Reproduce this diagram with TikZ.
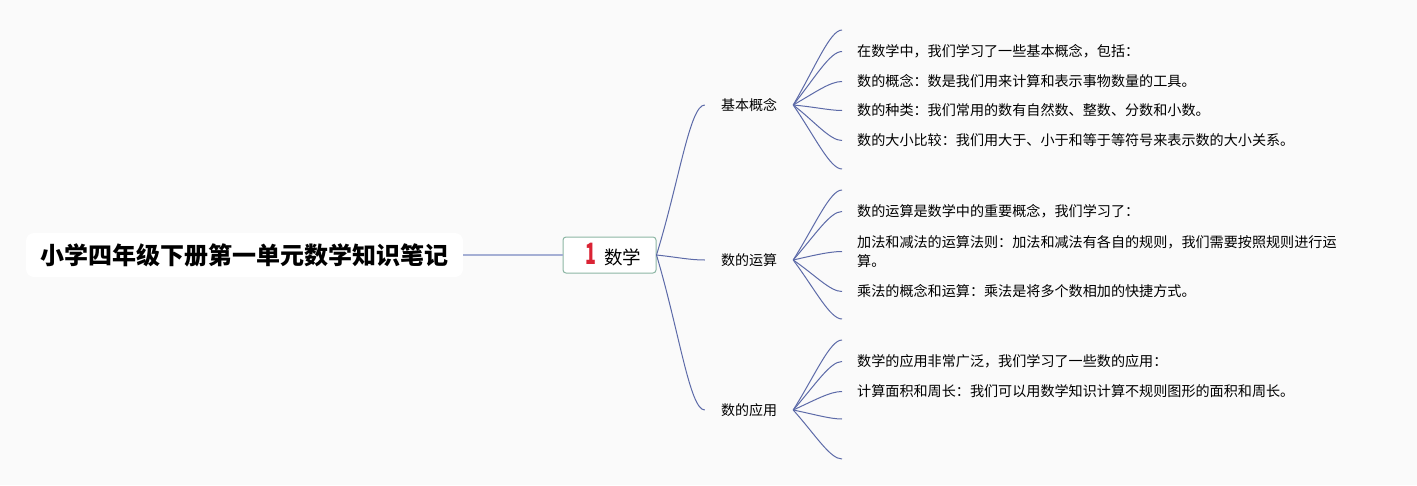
\documentclass[tikz,border=0pt]{standalone}
\usepackage{fontspec}
\setmainfont{Noto Sans CJK SC}
\definecolor{bgcol}{RGB}{250,250,250}
\definecolor{linkcol}{RGB}{92,106,168}
\definecolor{rootlink}{RGB}{165,175,212}
\definecolor{boxedge}{RGB}{140,182,164}
\definecolor{numred}{RGB}{218,35,52}
\tikzset{
  rootbox/.style={fill=white, rounded corners=8pt, minimum width=437pt, minimum height=44pt, font=\fontsize{24}{28}\selectfont\bfseries},
  mainbox/.style={draw=boxedge, line width=1pt, fill=white, rounded corners=3pt, minimum width=93pt, minimum height=36pt, inner sep=0pt, font=\fontsize{18.5}{20}\selectfont},
  topic/.style={minimum width=88pt, inner sep=0pt, font=\fontsize{14}{17}\selectfont},
  leaf/.style={anchor=west, inner xsep=15pt, inner ysep=0pt, align=left, font=\fontsize{14.1}{19.5}\selectfont},
  link/.style={draw=linkcol, line width=1pt},
}
\begin{document}
\begin{tikzpicture}[x=1pt,y=-1pt]
\fill[bgcol] (0,0) rectangle (1417,485);
\useasboundingbox (0,0) rectangle (1417,485);
\node[rootbox] (root) at (244.5,255) {小学四年级下册第一单元数学知识笔记};
\node[mainbox] (math) at (609.5,255) {\hspace{8pt}\textcolor{numred}{\fontsize{21}{21}\selectfont\bfseries\scalebox{0.85}[1.4]{1}}\hspace{8pt}数学};
\draw[rootlink, line width=1.2pt] (root.east) -- (math.west);
\node[topic] (basic) at (749,105) {基本概念};
\node[topic] (calc) at (749,260) {数的运算};
\node[topic] (apply) at (749,410) {数的应用};
\draw[link] (math.east) .. controls +(23,-75) and +(-15,0) .. (basic.west);
\draw[link] (math.east) .. controls +(23,2.5) and +(-15,0) .. (calc.west);
\draw[link] (math.east) .. controls +(23,77.5) and +(-15,0) .. (apply.west);
\coordinate (b0) at (842,30);
\node[leaf] (b1) at (842,51.5) {在数学中，我们学习了一些基本概念，包括：};
\node[leaf] (b2) at (842,81.5) {数的概念：数是我们用来计算和表示事物数量的工具。};
\node[leaf] (b3) at (842,110.5) {数的种类：我们常用的数有自然数、整数、分数和小数。};
\node[leaf] (b4) at (842,140.5) {数的大小比较：我们用大于、小于和等于等符号来表示数的大小关系。};
\coordinate (b5) at (842,169);
\draw[link] (basic.east) .. controls +(22,-37.5) and +(-12,0) .. (b0);
\draw[link] (basic.east) .. controls +(22,-27.5) and +(-12,0) .. (b1.west);
\draw[link] (basic.east) .. controls +(22,-12.5) and +(-12,0) .. (b2.west);
\draw[link] (basic.east) .. controls +(22,2) and +(-12,0) .. (b3.west);
\draw[link] (basic.east) .. controls +(22,17) and +(-12,0) .. (b4.west);
\draw[link] (basic.east) .. controls +(22,32) and +(-12,0) .. (b5);
\coordinate (c0) at (842,190);
\node[leaf] (c1) at (842,211.5) {数的运算是数学中的重要概念，我们学习了：};
\node[leaf] (c2) at (842,251.5) {加法和减法的运算法则：加法和减法有各自的规则，我们需要按照规则进行运\\算。};
\node[leaf] (c3) at (842,291.5) {乘法的概念和运算：乘法是将多个数相加的快捷方式。};
\coordinate (c4) at (842,319);
\draw[link] (calc.east) .. controls +(22,-35) and +(-12,0) .. (c0);
\draw[link] (calc.east) .. controls +(22,-25) and +(-12,0) .. (c1.west);
\draw[link] (calc.east) .. controls +(22,-5) and +(-12,0) .. (c2.west);
\draw[link] (calc.east) .. controls +(22,15) and +(-12,0) .. (c3.west);
\draw[link] (calc.east) .. controls +(22,29.5) and +(-12,0) .. (c4);
\coordinate (a0) at (842,340);
\node[leaf] (a1) at (842,361.5) {数学的应用非常广泛，我们学习了一些数的应用：};
\node[leaf] (a2) at (842,391.5) {计算面积和周长：我们可以用数学知识计算不规则图形的面积和周长。};
\coordinate (a3) at (842,419);
\coordinate (a4) at (842,459);
\draw[link] (apply.east) .. controls +(22,-35) and +(-12,0) .. (a0);
\draw[link] (apply.east) .. controls +(22,-25) and +(-12,0) .. (a1.west);
\draw[link] (apply.east) .. controls +(22,-10) and +(-12,0) .. (a2.west);
\draw[link] (apply.east) .. controls +(22,4.5) and +(-12,0) .. (a3);
\draw[link] (apply.east) .. controls +(22,24.5) and +(-12,0) .. (a4);
\end{tikzpicture}
\end{document}
